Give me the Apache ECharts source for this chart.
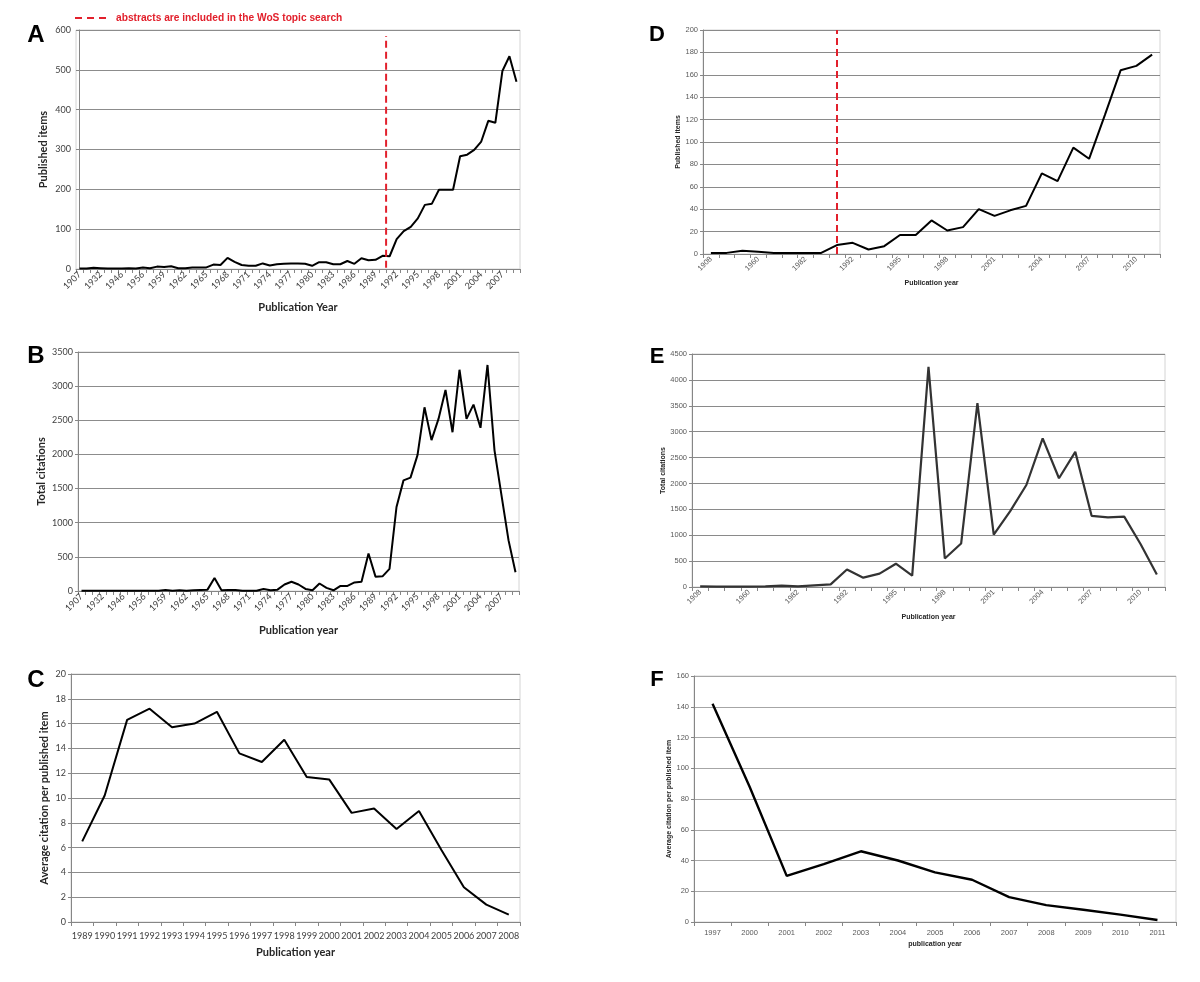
<!DOCTYPE html>
<html>
<head>
<meta charset="utf-8">
<script src="https://cdn.jsdelivr.net/npm/echarts@6/dist/echarts.min.js"></script>
<style>
    html, body { margin: 0; padding: 0; background: #fff; }
    #chart { width: 1200px; height: 982px; }
</style>
</head>
<body>
<div id="chart"></div>
<script>
// ---- data ----
// A / B: whole period, year categories
const yearsAB = ['1907', '1914', '1927', '1932', '1936', '1940', '1946', '1950', '1953',
    '1956', '1957', '1958', '1959', '1960', '1961', '1962', '1963', '1964', '1965',
    '1966', '1967', '1968', '1969', '1970', '1971', '1972', '1973', '1974', '1975',
    '1976', '1977', '1978', '1979', '1980', '1981', '1982', '1983', '1984', '1985',
    '1986', '1987', '1988', '1989', '1990', '1991', '1992', '1993', '1994', '1995',
    '1996', '1997', '1998', '1999', '2000', '2001', '2002', '2003', '2004', '2005',
    '2006', '2007', '2008', '2009']
const publishedA = [1, 1, 3, 2, 1, 1, 1, 2, 1,
    4, 2, 6, 5, 7, 2, 2, 4, 4, 4,
    11, 10, 28, 18, 10, 8, 8, 14, 9, 12,
    13, 14, 14, 13, 8, 17, 17, 12, 12, 20,
    13, 27, 22, 23, 33, 32, 75, 95, 106, 127,
    161, 164, 199, 199, 199, 283, 287, 299, 320, 372,
    367, 497, 534, 470]
const citationsB = [5, 3, 3, 3, 3, 3, 3, 3, 3, 3, 3,
    5, 15, 5, 10, 5, 10, 15, 20, 190, 10,
    15, 15, 5, 5, 5, 30, 10, 20, 95, 135,
    95, 30, 10, 110, 45, 10, 75, 75, 125, 135,
    550, 210, 215, 325, 1230, 1620, 1660, 1990, 2690, 2210,
    2520, 2945, 2325, 3240, 2520, 2730, 2390, 3310, 2060, 1400,
    745, 275]
// red dashed marker position in A (between 1990 and 1991)
const abstractsFromA = 43.5
const abstractsSpanA = [3, 585]

// C
const yearsC = ['1989', '1990', '1991', '1992', '1993', '1994', '1995', '1996', '1997', '1998',
    '1999', '2000', '2001', '2002', '2003', '2004', '2005', '2006', '2007', '2008']
const avgCitC = [6.5, 10.2, 16.3, 17.2, 15.7, 16.0, 16.95, 13.6, 12.9, 14.7,
    11.7, 11.5, 8.8, 9.15, 7.5, 8.95, 5.8, 2.8, 1.4, 0.6]

// D / E
const yearsDE = ['1908', '1935', '1949', '1960', '1966', '1975', '1982', '1989', '1991',
    '1992', '1993', '1994', '1995', '1996', '1997', '1998', '1999', '2000', '2001',
    '2002', '2003', '2004', '2005', '2006', '2007', '2008', '2009', '2010', '2011']
const publishedD = [1, 1, 3, 2, 1, 1, 1, 1, 8,
    10, 4, 7, 17, 17, 30, 21, 24, 40, 34,
    39, 43, 72, 65, 95, 85, 124, 164, 168, 178]
const citationsE = [13, 6, 6, 6, 13, 26, 13, 32, 50,
    338, 180, 258, 450, 220, 4250, 550, 840, 3550, 1010,
    1460, 1970, 2870, 2100, 2610, 1375, 1345, 1360, 830, 240]
const abstractsFromD = '1991'
const abstractsSpanD = [0, 200]

// F
const yearsF = ['1997', '2000', '2001', '2002', '2003', '2004', '2005', '2006', '2007',
    '2008', '2009', '2010', '2011']
const avgCitF = [142, 88, 30, 37.7, 46, 40, 32.3, 27.5, 16.2, 11, 8, 4.8, 1.3]

// ---- styles ----
const LEFT_FONT = 'Lato'
const RIGHT_FONT = 'Liberation Sans'
const RED = '#e2202c'

const grids = [
    { left: 76, top: 30, width: 444, height: 239 },   // A
    { left: 78, top: 352, width: 441, height: 239 },  // B
    { left: 71, top: 674, width: 449, height: 248 },  // C
    { left: 703, top: 30, width: 457, height: 224 },  // D
    { left: 692, top: 354, width: 473, height: 233 }, // E
    { left: 694, top: 676, width: 482, height: 246 }  // F
].map(g => ({ ...g, show: true, borderColor: '#d4d4d4', borderWidth: 1 }))

const catAxis = (gridIndex, data, opt) => ({
    type: 'category',
    gridIndex,
    data,
    boundaryGap: true,
    name: opt.name,
    nameLocation: 'middle',
    nameGap: opt.nameGap,
    nameTextStyle: { fontFamily: opt.font, fontSize: opt.nameSize, fontWeight: 'bold', color: '#262626' },
    axisLine: { show: true, lineStyle: { color: '#868686', width: 1 } },
    axisTick: { show: true, interval: 0, length: 4, lineStyle: { color: '#868686' } },
    axisLabel: {
        interval: opt.labelInterval,
        rotate: opt.rotate,
        margin: opt.margin,
        fontFamily: opt.font,
        fontSize: opt.labelSize,
        color: opt.labelColor
    },
    splitLine: { show: false }
})

const valAxis = (gridIndex, max, interval, opt) => ({
    type: 'value',
    gridIndex,
    min: 0,
    max,
    interval,
    name: opt.name,
    nameLocation: 'middle',
    nameGap: opt.nameGap,
    nameTextStyle: { fontFamily: opt.font, fontSize: opt.nameSize, fontWeight: 'bold', color: '#262626' },
    axisLine: { show: true, lineStyle: { color: '#868686', width: 1 } },
    axisTick: { show: true, length: 3, lineStyle: { color: '#868686' } },
    axisLabel: {
        margin: 5,
        fontFamily: opt.font,
        fontSize: opt.labelSize,
        color: opt.labelColor,
        formatter: v => String(v)
    },
    splitLine: { show: true, lineStyle: { color: opt.gridColor, width: opt.gridWidth } }
})

const leftX = { font: LEFT_FONT, nameSize: 11, labelSize: 9, labelColor: '#404040' }
const rightX = { font: RIGHT_FONT, nameSize: 7, labelSize: 7.5, labelColor: '#595959' }

const xAxes = [
    catAxis(0, yearsAB, { ...leftX, name: 'Publication Year', nameGap: 33, labelInterval: 2, rotate: 45, margin: 4 }),
    catAxis(1, yearsAB, { ...leftX, name: 'Publication year', nameGap: 34, labelInterval: 2, rotate: 45, margin: 4 }),
    catAxis(2, yearsC, { ...leftX, name: 'Publication year', nameGap: 25, labelInterval: 0, rotate: 0, margin: 10 }),
    catAxis(3, yearsDE, { ...rightX, name: 'Publication year', nameGap: 26, labelInterval: 2, rotate: 45, margin: 4 }),
    catAxis(4, yearsDE, { ...rightX, name: 'Publication year', nameGap: 27, labelInterval: 2, rotate: 45, margin: 4 }),
    catAxis(5, yearsF, { ...rightX, name: 'publication year', nameGap: 19, labelInterval: 0, rotate: 0, margin: 7 }),
    // hidden value axis over grid A, used to place the dashed marker between two years
    {
        type: 'value', gridIndex: 0, show: false,
        min: -0.5, max: yearsAB.length - 0.5,
        splitLine: { show: false }
    }
]

const leftY = { font: LEFT_FONT, nameSize: 11, labelSize: 9, labelColor: '#404040', gridColor: '#8c8c8c', gridWidth: 1 }
const rightY = { font: RIGHT_FONT, nameSize: 7, labelSize: 7.5, labelColor: '#595959', gridColor: '#8a8a8a', gridWidth: 1.2 }

const yAxes = [
    valAxis(0, 600, 100, { ...leftY, name: 'Published items', nameGap: 27 }),
    valAxis(1, 3500, 500, { ...leftY, name: 'Total citations', nameGap: 31 }),
    valAxis(2, 20, 2, { ...leftY, name: 'Average citation per published item', nameGap: 21 }),
    valAxis(3, 200, 20, { ...rightY, name: 'Published items', nameGap: 20 }),
    valAxis(4, 4500, 500, { ...rightY, name: 'Total citations', nameGap: 24 }),
    valAxis(5, 160, 20, { ...rightY, name: 'Average citation per published item', nameGap: 20, gridColor: '#a6a6a6' })
]

const lineSeries = (i, data, color, width) => ({
    type: 'line',
    xAxisIndex: i,
    yAxisIndex: i,
    data,
    symbol: 'none',
    lineStyle: { color, width },
    z: 3
})

const seriesD = lineSeries(3, publishedD, '#000', 2)
seriesD.markLine = {
    silent: true,
    symbol: 'none',
    label: { show: false },
    lineStyle: { color: RED, width: 2, type: [7, 4] },
    data: [[
        { coord: [abstractsFromD, abstractsSpanD[0]] },
        { coord: [abstractsFromD, abstractsSpanD[1]] }
    ]]
}

const series = [
    lineSeries(0, publishedA, '#000', 2),
    lineSeries(1, citationsB, '#000', 2),
    lineSeries(2, avgCitC, '#000', 2),
    seriesD,
    lineSeries(4, citationsE, '#333', 2.2),
    lineSeries(5, avgCitF, '#000', 2.4),
    {
        type: 'line',
        xAxisIndex: 6,
        yAxisIndex: 0,
        data: [[abstractsFromA, abstractsSpanA[0]], [abstractsFromA, abstractsSpanA[1]]],
        symbol: 'none',
        lineStyle: { color: RED, width: 2, type: [7, 4] },
        z: 4
    }
]

const panelLetter = (text, x, y, size) => ({
    type: 'text',
    style: { text, x, y, font: `bold ${size}px "Liberation Sans"`, fill: '#000', align: 'center', verticalAlign: 'middle' }
})

const graphic = [
    panelLetter('A', 36, 35, 24),
    panelLetter('B', 36, 356, 24),
    panelLetter('C', 36, 680, 24),
    panelLetter('D', 657, 35, 22),
    panelLetter('E', 657, 357, 22),
    panelLetter('F', 657, 680, 22),
    {
        type: 'line',
        shape: { x1: 75, y1: 18, x2: 108, y2: 18 },
        style: { stroke: RED, lineWidth: 2.2, lineDash: [7, 5] }
    },
    {
        type: 'text',
        style: {
            text: 'abstracts are included in the WoS topic search',
            x: 116, y: 18,
            font: 'bold 10.2px "Liberation Sans"',
            fill: RED,
            verticalAlign: 'middle'
        }
    }
]

const chart = echarts.init(document.getElementById('chart'), null, { renderer: 'canvas' })
chart.setOption({
    animation: false,
    backgroundColor: '#fff',
    grid: grids,
    xAxis: xAxes,
    yAxis: yAxes,
    series,
    graphic
})
</script>
</body>
</html>
